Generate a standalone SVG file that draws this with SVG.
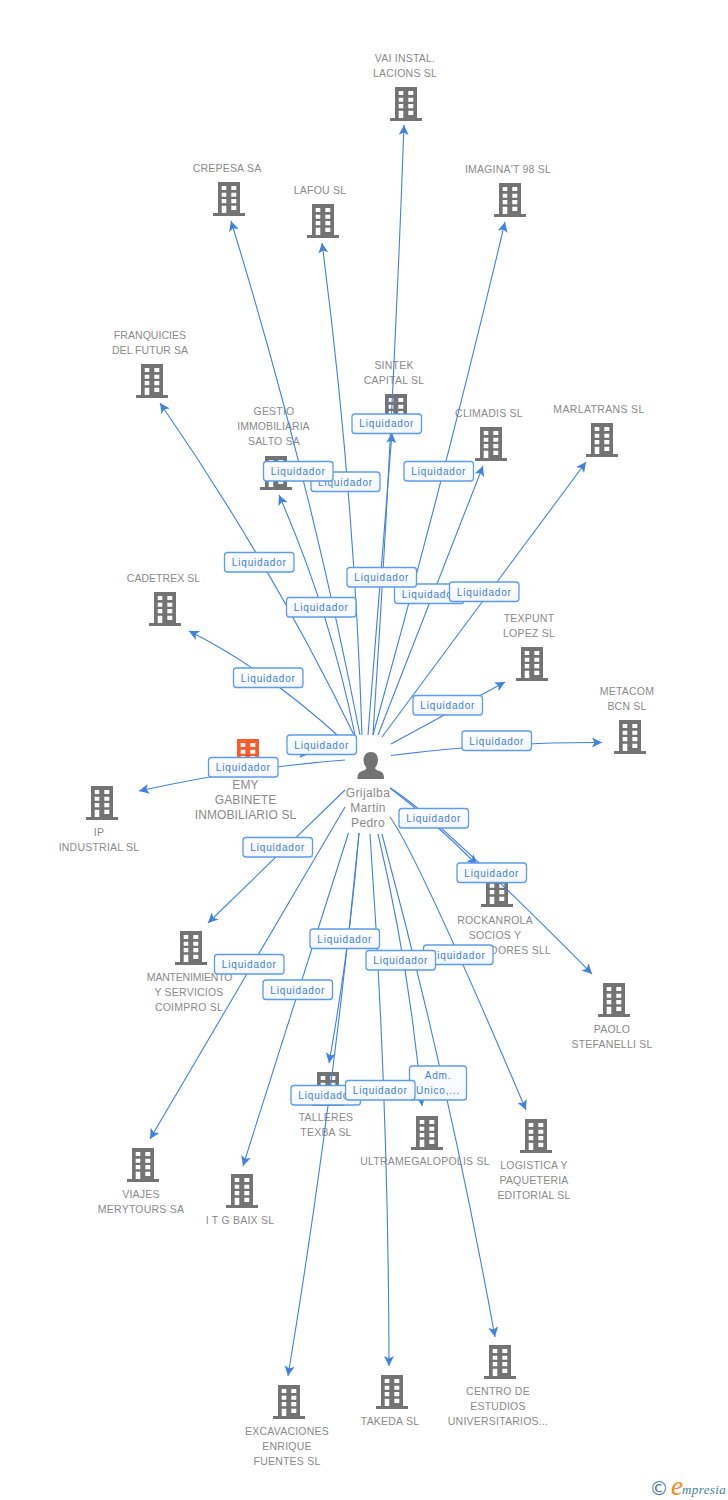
<svg xmlns="http://www.w3.org/2000/svg" width="728" height="1500" viewBox="0 0 728 1500">
<style>
text{font-family:"Liberation Sans",Arial,sans-serif}
.n{font-size:10.5px;fill:#8a8a8a;text-anchor:middle;letter-spacing:.22px}
.m{font-size:12px;letter-spacing:.1px}
.p{font-size:12px;letter-spacing:.4px}
.l{font-size:10px;fill:#3b7fd9;text-anchor:middle;letter-spacing:.82px}
.c path{fill:none;stroke:#3f82e0;stroke-width:1.1;marker-end:url(#a)}
.b{fill:url(#g);stroke:#5c9cea;stroke-width:1.3}
.i{fill:#737373}
.o{fill:#ff5a2b}
</style>
<defs>
<linearGradient id="g" x1="0" y1="0" x2="0" y2="1"><stop offset="0" stop-color="#fff"/><stop offset="1" stop-color="#f3f6fb"/></linearGradient>
<marker id="a" markerUnits="userSpaceOnUse" markerWidth="14" markerHeight="12" refX="10" refY="5" orient="auto"><path d="M0,0L10,5L0,10L2.5,5Z" fill="#3f82e0"/></marker>
<path id="h" fill-rule="evenodd" d="M-11,-17H11V14H16V17H-16V14H-11ZM-7.300,-13V-9H-2.700V-13ZM2.300,-13V-9H7.300V-13ZM-7.300,-6.300V-2.300H-2.700V-6.300ZM2.300,-6.300V-2.300H7.300V-6.300ZM-7.300,0V4.300H-2.700V0ZM2.300,0V4.300H7.300V0ZM-7.300,6.700V14H-2.700V6.700ZM2.300,6.700V11H7.300V6.700Z"/>
</defs>
<rect width="728" height="1500" fill="#fff"/>
<g id="node-vai"><use href="#h" class="i" x="406" y="104"/><text class="n" x="405" y="62">VAI INSTAL.</text><text class="n" x="405" y="77">LACIONS SL</text></g>
<g id="node-crepesa"><use href="#h" class="i" x="229" y="199"/><text class="n" x="227" y="172">CREPESA SA</text></g>
<g id="node-lafou"><use href="#h" class="i" x="323" y="221"/><text class="n" x="320" y="194">LAFOU SL</text></g>
<g id="node-imaginat"><use href="#h" class="i" x="510" y="200"/><text class="n" x="508" y="173">IMAGINA'T 98 SL</text></g>
<g id="node-franquicies"><use href="#h" class="i" x="152" y="381"/><text class="n" x="150" y="339" style="letter-spacing:.05px">FRANQUICIES</text><text class="n" x="150" y="354" style="letter-spacing:.05px">DEL FUTUR SA</text></g>
<g id="node-sintek"><use href="#h" class="i" x="396" y="411"/><text class="n" x="394" y="369">SINTEK</text><text class="n" x="394" y="384">CAPITAL SL</text></g>
<g id="node-gestio"><use href="#h" class="i" x="276" y="473"/><text class="n" x="274" y="415">GESTIO</text><text class="n" x="273.500" y="430" style="letter-spacing:.05px">IMMOBILIARIA</text><text class="n" x="274" y="445">SALTO SA</text></g>
<g id="node-climadis"><use href="#h" class="i" x="491" y="444"/><text class="n" x="489" y="417">CLIMADIS SL</text></g>
<g id="node-marlatrans"><use href="#h" class="i" x="602" y="440"/><text class="n" x="599" y="413" style="letter-spacing:.35px">MARLATRANS SL</text></g>
<g id="node-cadetrex"><use href="#h" class="i" x="165" y="609"/><text class="n" x="163.500" y="582" style="letter-spacing:.05px">CADETREX SL</text></g>
<g id="node-texpunt"><use href="#h" class="i" x="532" y="664"/><text class="n" x="529" y="622">TEXPUNT</text><text class="n" x="529" y="637">LOPEZ SL</text></g>
<g id="node-metacom"><use href="#h" class="i" x="630" y="737"/><text class="n" x="627" y="695">METACOM</text><text class="n" x="627" y="710">BCN SL</text></g>
<g id="node-emy"><use href="#h" class="o" x="248" y="756"/><text class="n m" x="245.500" y="789">EMY</text><text class="n m" x="245.500" y="804">GABINETE</text><text class="n m" x="245.500" y="819">INMOBILIARIO SL</text></g>
<g id="node-ip"><use href="#h" class="i" x="102" y="803"/><text class="n" x="99" y="836">IP</text><text class="n" x="99" y="851">INDUSTRIAL SL</text></g>
<g id="node-person"><path class="i" d="M371,752c4.500,0 7,3.500 7,8c0,3.500-1.500,6-3,8c.5,2 3,2.500 5.500,3.500c2.500,1 3.500,3 3.500,7.500H357.500c0-4.500 1-6.500 3.500-7.500c2.500-1 5-1.500 5.500-3.500c-1.500-2-3-4.500-3-8c0-4.500 3-8 7.500-8Z"/><text class="n p" x="368" y="797">Grijalba</text><text class="n p" x="368" y="812">Martin</text><text class="n p" x="368" y="827">Pedro</text></g>
<g id="node-rockanrola"><use href="#h" class="i" x="497" y="890"/><text class="n" x="495" y="924">ROCKANROLA</text><text class="n" x="495" y="939">SOCIOS Y</text><text class="n" x="551" y="954" style="text-anchor:end">DORES SLL</text></g>
<g id="node-paolo"><use href="#h" class="i" x="614" y="1000"/><text class="n" x="612" y="1033">PAOLO</text><text class="n" x="612" y="1048">STEFANELLI SL</text></g>
<g id="node-mantenimiento"><use href="#h" class="i" x="191" y="948"/><text class="n" x="189.500" y="981" style="letter-spacing:-.2px">MANTENIMIENTO</text><text class="n" x="189" y="996">Y SERVICIOS</text><text class="n" x="189" y="1011">COIMPRO SL</text></g>
<g id="node-viajes"><use href="#h" class="i" x="143" y="1165"/><text class="n" x="141" y="1198">VIAJES</text><text class="n" x="141" y="1213">MERYTOURS SA</text></g>
<g id="node-itg"><use href="#h" class="i" x="242" y="1191"/><text class="n" x="240" y="1224">I T G BAIX SL</text></g>
<g id="node-talleres"><use href="#h" class="i" x="328" y="1089"/><text class="n" x="326" y="1121">TALLERES</text><text class="n" x="326" y="1136">TEXBA SL</text></g>
<g id="node-ultra"><use href="#h" class="i" x="427" y="1133"/><text class="n" x="425" y="1165">ULTRAMEGALOPOLIS SL</text></g>
<g id="node-logistica"><use href="#h" class="i" x="536" y="1136"/><text class="n" x="534" y="1169">LOGISTICA Y</text><text class="n" x="534" y="1184">PAQUETERIA</text><text class="n" x="534" y="1199">EDITORIAL SL</text></g>
<g id="node-excavaciones"><use href="#h" class="i" x="289" y="1402"/><text class="n" x="287" y="1435">EXCAVACIONES</text><text class="n" x="287" y="1450">ENRIQUE</text><text class="n" x="287" y="1465">FUENTES SL</text></g>
<g id="node-takeda"><use href="#h" class="i" x="392" y="1392"/><text class="n" x="390" y="1425">TAKEDA SL</text></g>
<g id="node-centro"><use href="#h" class="i" x="500" y="1362"/><text class="n" x="498" y="1395">CENTRO DE</text><text class="n" x="498" y="1410">ESTUDIOS</text><text class="n" x="498" y="1425">UNIVERSITARIOS...</text></g>
<g id="connectors">
<g class="c">
<path d="M373,735Q393,430 404,125"/>
<path d="M360,735Q310,478 231,221"/>
<path d="M362,735Q354,489 322,243"/>
<path d="M373,735Q445,475 505,222"/>
<path d="M355,737Q270,562 160,403"/>
<path d="M368,735L392,433"/>
<path d="M355,735Q330,612 279,495"/>
<path d="M378,735L483,466"/>
<path d="M382,737L586,462"/>
<path d="M345,742Q267,670 189,631"/>
<path d="M391,744L505,682"/>
<path d="M391,755.500Q496,742 602,742.500"/>
<path d="M345,760Q242,768 139,791"/>
<path d="M318,738L300,757.500"/>
<path d="M390,788Q436.700,823.500 477,865"/>
<path d="M390,788Q434,814 592,974"/>
<path d="M345,790L208,923"/>
<path d="M345,807L150,1139"/>
<path d="M348.500,833L243,1166"/>
<path d="M359,833Q350,946 329,1063"/>
<path d="M359,833Q333,1104 288,1376"/>
<path d="M378,834Q410,970 422,1106"/>
<path d="M370,834Q388.500,1100 389,1366"/>
<path d="M382,834Q449,1084 495,1337"/>
<path d="M390,817Q418,856 526,1110"/>
</g>
<g id="labels">
<g><rect class="b" x="311" y="472" width="69" height="19.500" rx="3"/><text class="l" x="345.500" y="485.500">Liquidador</text></g>
<g><rect class="b" x="352" y="414" width="69.500" height="19.500" rx="3"/><text class="l" x="386.800" y="427">Liquidador</text></g>
<g><rect class="b" x="263.500" y="461.500" width="69.500" height="19.500" rx="3"/><text class="l" x="298.300" y="475">Liquidador</text></g>
<g><rect class="b" x="404" y="461.500" width="69.500" height="19.500" rx="3"/><text class="l" x="438.800" y="475">Liquidador</text></g>
<g><rect class="b" x="224.500" y="552.500" width="69.500" height="19.500" rx="3"/><text class="l" x="259.300" y="566">Liquidador</text></g>
<g><rect class="b" x="394.500" y="584" width="69.500" height="19.500" rx="3"/><text class="l" x="429.300" y="597.500">Liquidador</text></g>
<g><rect class="b" x="347" y="567.500" width="69.500" height="19.500" rx="3"/><text class="l" x="381.800" y="581">Liquidador</text></g>
<g><rect class="b" x="449.500" y="582" width="69.500" height="19.500" rx="3"/><text class="l" x="484.300" y="595.500">Liquidador</text></g>
<g><rect class="b" x="286.500" y="597.500" width="69.500" height="19.500" rx="3"/><text class="l" x="321.300" y="611">Liquidador</text></g>
<g><rect class="b" x="233.500" y="668" width="69.500" height="19.500" rx="3"/><text class="l" x="268.300" y="681.500">Liquidador</text></g>
<g><rect class="b" x="413" y="695.500" width="69.500" height="19.500" rx="3"/><text class="l" x="447.800" y="709">Liquidador</text></g>
<g><rect class="b" x="287" y="735" width="69.500" height="19.500" rx="3"/><text class="l" x="321.800" y="748.500">Liquidador</text></g>
<g><rect class="b" x="462" y="731" width="69.500" height="19.500" rx="3"/><text class="l" x="496.800" y="744.500">Liquidador</text></g>
<g><rect class="b" x="208.500" y="757.500" width="69.500" height="19.500" rx="3"/><text class="l" x="243.300" y="771">Liquidador</text></g>
<g><rect class="b" x="399" y="808.500" width="69.500" height="19.500" rx="3"/><text class="l" x="433.800" y="822">Liquidador</text></g>
<g><rect class="b" x="243" y="837.500" width="69.500" height="19.500" rx="3"/><text class="l" x="277.800" y="851">Liquidador</text></g>
<g><rect class="b" x="457" y="863" width="69.500" height="19.500" rx="3"/><text class="l" x="491.800" y="876.500">Liquidador</text></g>
<g><rect class="b" x="310" y="929" width="69.500" height="19.500" rx="3"/><text class="l" x="344.800" y="942.500">Liquidador</text></g>
<g><rect class="b" x="423.500" y="945" width="69.500" height="19.500" rx="3"/><text class="l" x="458.300" y="958.500">Liquidador</text></g>
<g><rect class="b" x="366" y="950.500" width="69.500" height="19.500" rx="3"/><text class="l" x="400.800" y="964">Liquidador</text></g>
<g><rect class="b" x="214.500" y="954.500" width="69.500" height="19.500" rx="3"/><text class="l" x="249.300" y="968">Liquidador</text></g>
<g><rect class="b" x="263" y="980" width="69.500" height="19.500" rx="3"/><text class="l" x="297.800" y="993.500">Liquidador</text></g>
<g><rect class="b" x="291" y="1085.500" width="69.500" height="19.500" rx="3"/><text class="l" x="325.800" y="1099">Liquidador</text></g>
<g><rect class="b" x="409.500" y="1066" width="57" height="34" rx="3"/><text class="l" x="438" y="1079">Adm.</text><text class="l" x="438" y="1094">Unico,...</text></g>
<g><rect class="b" x="345.500" y="1080.500" width="69.500" height="19.500" rx="3"/><text class="l" x="380.300" y="1094">Liquidador</text></g>
</g>
</g>
<g id="logo"><text x="649.500" y="1495" font-size="19" fill="#4a7f9c" style="font-family:'DejaVu Sans',sans-serif">©</text><text x="671" y="1495" font-size="27" font-style="italic" fill="#f08a1d" style="font-family:'Liberation Serif',serif">e</text><text x="682" y="1494" font-size="13" font-style="italic" fill="#3d7f96" style="font-family:'Liberation Serif',serif" letter-spacing=".4">mpresia</text></g>
</svg>
